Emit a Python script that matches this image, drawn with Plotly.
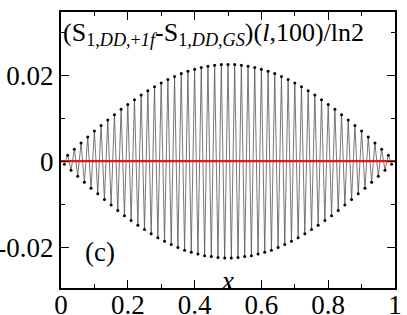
import plotly.graph_objects as go

l_values = list(range(1, 100))
N = 100
s_diff = [
    -0.0007, 0.0014, -0.0021, 0.0028, -0.0035, 0.0042, -0.0049, 0.0056, -0.0063, 0.0070,
    -0.0076, 0.0083, -0.0089, 0.0096, -0.0102, 0.0108, -0.0115, 0.0121, -0.0127, 0.0132,
    -0.0138, 0.0143, -0.0149, 0.0154, -0.0159, 0.0164, -0.0169, 0.0173, -0.0178, 0.0182,
    -0.0186, 0.0190, -0.0194, 0.0197, -0.0201, 0.0204, -0.0207, 0.0209, -0.0212, 0.0214,
    -0.0216, 0.0218, -0.0220, 0.0221, -0.0222, 0.0223, -0.0224, 0.0225, -0.0225, 0.0225,
    -0.0225, 0.0225, -0.0224, 0.0223, -0.0222, 0.0221, -0.0220, 0.0218, -0.0216, 0.0214,
    -0.0212, 0.0209, -0.0207, 0.0204, -0.0201, 0.0197, -0.0194, 0.0190, -0.0186, 0.0182,
    -0.0178, 0.0173, -0.0169, 0.0164, -0.0159, 0.0154, -0.0149, 0.0143, -0.0138, 0.0132,
    -0.0127, 0.0121, -0.0115, 0.0108, -0.0102, 0.0096, -0.0089, 0.0083, -0.0076, 0.0070,
    -0.0063, 0.0056, -0.0049, 0.0042, -0.0035, 0.0028, -0.0021, 0.0014, -0.0007,
]
x_vals = [l / N for l in l_values]

ref_x = [0, 1]
ref_y = [0, 0]

x_tickvals = [0, 0.2, 0.4, 0.6, 0.8, 1]
x_ticktext = ["0", "0.2", "0.4", "0.6", "0.8", "1"]
y_tickvals = [-0.02, 0, 0.02]
y_ticktext = ["-0.02", "0", "0.02"]

FONT = "Times New Roman, Liberation Serif, DejaVu Serif, serif"

fig = go.Figure()
fig.add_trace(go.Scatter(
    x=x_vals, y=s_diff, mode="lines+markers",
    line=dict(color="#555555", width=0.8),
    marker=dict(color="black", size=3),
    showlegend=False,
))
fig.add_trace(go.Scatter(
    x=ref_x, y=ref_y, mode="lines",
    line=dict(color="#e8141a", width=2.2),
    showlegend=False,
))

axis_common = dict(
    showgrid=False, zeroline=False, showline=True, linecolor="black", linewidth=2,
    mirror="ticks", ticks="inside", ticklen=8, tickwidth=1, tickcolor="black",
    tickfont=dict(family=FONT, size=27, color="black"), automargin=False,
)
fig.update_xaxes(range=[0, 1], tickvals=x_tickvals, ticktext=x_ticktext,
                 minor=dict(ticks="inside", dtick=0.1, ticklen=4, tickcolor="black"),
                 ticklabelstandoff=-8,
                 **axis_common)
fig.update_yaxes(range=[-0.0295, 0.0347], tickvals=y_tickvals, ticktext=y_ticktext,
                 minor=dict(ticks="inside", dtick=0.01, tick0=0, ticklen=4, tickcolor="black"),
                 **axis_common)

fig.add_annotation(
    x=0.0, y=1.0, xref="paper", yref="paper", xanchor="left", yanchor="top",
    xshift=0, yshift=-4,
    text="(S<sub>1,<i>DD</i>,+<i>1f</i></sub>-S<sub>1,<i>DD</i>,<i>GS</i></sub>)(<i>l</i>,100)/ln2",
    showarrow=False, font=dict(family=FONT, size=26, color="black"),
)
fig.add_annotation(
    x=0.066, y=-0.0212, xref="x", yref="y", xanchor="left", yanchor="middle",
    text="(c)", showarrow=False, font=dict(family=FONT, size=27, color="black"),
)
fig.add_annotation(
    x=0.497, y=-0.0278, xref="x", yref="y", xanchor="center", yanchor="middle",
    text="<i>x</i>", showarrow=False, font=dict(family=FONT, size=27, color="black"),
)

fig.update_layout(
    width=407, height=315,
    margin=dict(l=61, r=12, t=12, b=27),
    paper_bgcolor="white", plot_bgcolor="white",
    font=dict(family=FONT),
)

fig.write_html("out.html", config={"displayModeBar": False},
               post_script="document.body.style.margin='0';")
